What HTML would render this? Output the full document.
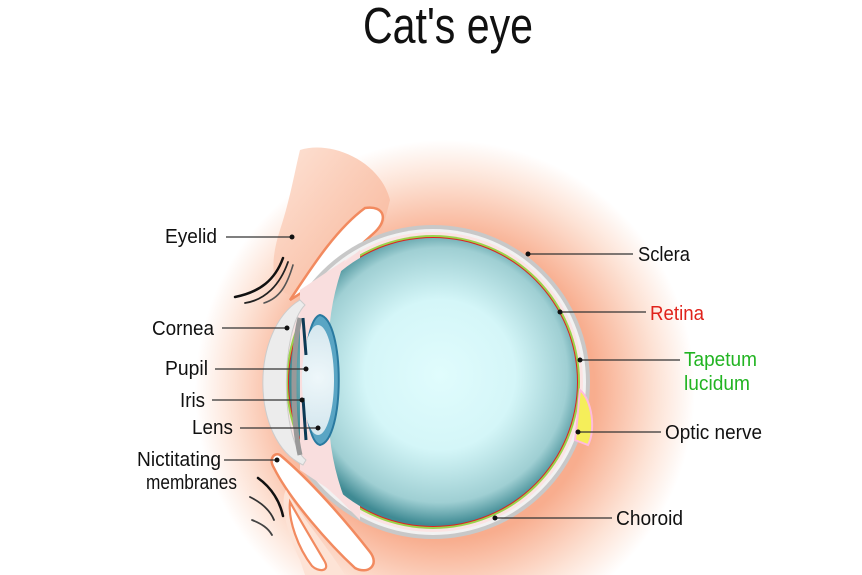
<!DOCTYPE html>
<html><head><meta charset="utf-8"><style>
html,body{margin:0;padding:0;background:#fff;overflow:hidden;width:862px;height:575px;}
svg{display:block;}
text{font-family:"Liberation Sans",sans-serif;}
</style></head><body>
<svg width="862" height="575" viewBox="0 0 862 575" xmlns="http://www.w3.org/2000/svg">
<defs>
<radialGradient id="glow" cx="445" cy="390" r="250" gradientUnits="userSpaceOnUse">
<stop offset="0" stop-color="#f7a585"/>
<stop offset="0.6" stop-color="#f8ad8e"/>
<stop offset="0.85" stop-color="#fde3d6"/>
<stop offset="1" stop-color="#ffffff"/>
</radialGradient>
<radialGradient id="ball" cx="440" cy="375" r="150" gradientUnits="userSpaceOnUse">
<stop offset="0" stop-color="#e0fcfd"/>
<stop offset="0.5" stop-color="#d4f6f8"/>
<stop offset="0.85" stop-color="#9fcfd3"/>
<stop offset="1" stop-color="#3f8a93"/>
</radialGradient>
<radialGradient id="lensg" cx="318" cy="378" r="50" gradientUnits="userSpaceOnUse">
<stop offset="0" stop-color="#eef7fa"/>
<stop offset="1" stop-color="#d6e8ef"/>
</radialGradient>
<linearGradient id="lid" x1="0" y1="0" x2="1" y2="1">
<stop offset="0" stop-color="#fde3d6"/>
<stop offset="1" stop-color="#f8b294"/>
</linearGradient>
</defs>
<rect width="862" height="575" fill="#fff"/>
<ellipse cx="445" cy="390" rx="250" ry="250" fill="url(#glow)"/>
<path d="M300 150 C330 140 380 160 390 200 L380 240 C340 280 310 300 290 295 C270 290 270 260 280 230 C290 200 295 170 300 150Z" fill="url(#lid)"/>
<path d="M365 208 C385 205 388 220 375 232 C350 255 315 285 290 300 C310 270 335 230 365 208Z" fill="#fff" stroke="#f28a5f" stroke-width="2.5"/>
<path d="M280 455 C275 452 268 458 274 468 C290 500 330 545 355 568 C368 575 380 565 370 552 C345 520 310 480 280 455Z" fill="#fff" stroke="#f28a5f" stroke-width="2.5"/>
<path d="M286 490 C280 500 285 530 300 560 L305 575 L345 575 C330 550 300 515 286 490Z" fill="#fde3d6"/>
<path d="M290 502 C288 520 298 548 312 566 C318 572 330 572 325 562 C315 545 300 520 290 502Z" fill="#fff" stroke="#f28a5f" stroke-width="2.2"/>
<g fill="none" stroke-linecap="round">
<path d="M283 258 C275 280 260 292 235 297" stroke="#111" stroke-width="2.5"/>
<path d="M288 262 C280 285 265 300 245 303" stroke="#222" stroke-width="1.8"/>
<path d="M293 265 C287 285 280 298 264 303" stroke="#555" stroke-width="1.6"/>
<path d="M258 478 C272 488 280 502 283 516" stroke="#111" stroke-width="2.5"/>
<path d="M250 497 C262 503 270 510 274 520" stroke="#333" stroke-width="1.8"/>
<path d="M252 520 C262 524 268 528 272 535" stroke="#444" stroke-width="1.8"/>
</g>
<circle cx="433" cy="382" r="157" fill="#c8c8c8"/>
<circle cx="433" cy="382" r="153" fill="#f2f2f2"/>
<circle cx="433" cy="382" r="150" fill="#fbe3e3"/>
<circle cx="433" cy="382" r="147" fill="#9bd34b"/>
<circle cx="433" cy="382" r="145" fill="#d22"/>
<path d="M580 390 C592 400 596 430 588 445 L575 440 C578 420 578 405 580 390Z" fill="#f5ee5a" stroke="#fbd" stroke-width="2"/>
<path d="M300 300 L360 250 L360 520 L300 460Z" fill="#f9dede"/>
<circle cx="433" cy="382" r="144" fill="url(#ball)"/>
<path d="M345 260 C330 300 325 340 332 378 C325 420 330 460 345 500 L300 470 L300 290Z" fill="#f9dede"/>
<path d="M300 300 C250 330 250 440 303 465 L306 460 C280 440 280 330 305 305Z" fill="#ececec" stroke="#ccc" stroke-width="1"/>
<path d="M300 318 C292 350 292 420 300 455" stroke="#999" stroke-width="5" fill="none"/>
<path d="M320 315 C345 320 345 440 320 445 C300 440 300 320 320 315Z" fill="#5aa5c4" stroke="#2a7aa0" stroke-width="2"/>
<ellipse cx="318" cy="380" rx="16" ry="55" fill="url(#lensg)"/>
<path d="M303 318 L306 355 M303 398 L306 440" stroke="#0d3a55" stroke-width="3"/>
<g stroke="#333" stroke-width="1.3">
<line x1="226" y1="237" x2="292" y2="237"/>
<line x1="222" y1="328" x2="287" y2="328"/>
<line x1="215" y1="369" x2="306" y2="369"/>
<line x1="212" y1="400" x2="302" y2="400"/>
<line x1="240" y1="428" x2="318" y2="428"/>
<line x1="224" y1="460" x2="277" y2="460"/>
<line x1="528" y1="254" x2="633" y2="254"/>
<line x1="560" y1="312" x2="646" y2="312"/>
<line x1="580" y1="360" x2="680" y2="360"/>
<line x1="578" y1="432" x2="661" y2="432"/>
<line x1="495" y1="518" x2="612" y2="518"/>
</g>
<g fill="#111">
<circle cx="292" cy="237" r="2.5"/><circle cx="287" cy="328" r="2.5"/><circle cx="306" cy="369" r="2.5"/>
<circle cx="302" cy="400" r="2.5"/><circle cx="318" cy="428" r="2.5"/><circle cx="277" cy="460" r="2.5"/>
<circle cx="528" cy="254" r="2.5"/><circle cx="560" cy="312" r="2.5"/><circle cx="580" cy="360" r="2.5"/>
<circle cx="578" cy="432" r="2.5"/><circle cx="495" cy="518" r="2.5"/>
</g>
<text x="363" y="43" font-size="51" textLength="170" lengthAdjust="spacingAndGlyphs" fill="#111">Cat's eye</text>
<g font-size="20" fill="#111">
<text x="165" y="243" textLength="52" lengthAdjust="spacingAndGlyphs">Eyelid</text>
<text x="152" y="335" textLength="62" lengthAdjust="spacingAndGlyphs">Cornea</text>
<text x="165" y="375" textLength="43" lengthAdjust="spacingAndGlyphs">Pupil</text>
<text x="180" y="407" textLength="25" lengthAdjust="spacingAndGlyphs">Iris</text>
<text x="192" y="434" textLength="41" lengthAdjust="spacingAndGlyphs">Lens</text>
<text x="137" y="466" textLength="84" lengthAdjust="spacingAndGlyphs">Nictitating</text>
<text x="146" y="489" textLength="91" lengthAdjust="spacingAndGlyphs">membranes</text>
<text x="638" y="261" textLength="52" lengthAdjust="spacingAndGlyphs">Sclera</text>
<text x="650" y="320" textLength="54" lengthAdjust="spacingAndGlyphs" fill="#e0221b">Retina</text>
<text x="684" y="366" textLength="73" lengthAdjust="spacingAndGlyphs" fill="#22b422">Tapetum</text>
<text x="684" y="390" textLength="66" lengthAdjust="spacingAndGlyphs" fill="#22b422">lucidum</text>
<text x="665" y="439" textLength="97" lengthAdjust="spacingAndGlyphs">Optic nerve</text>
<text x="616" y="525" textLength="67" lengthAdjust="spacingAndGlyphs">Choroid</text>
</g>
</svg>
</body></html>
